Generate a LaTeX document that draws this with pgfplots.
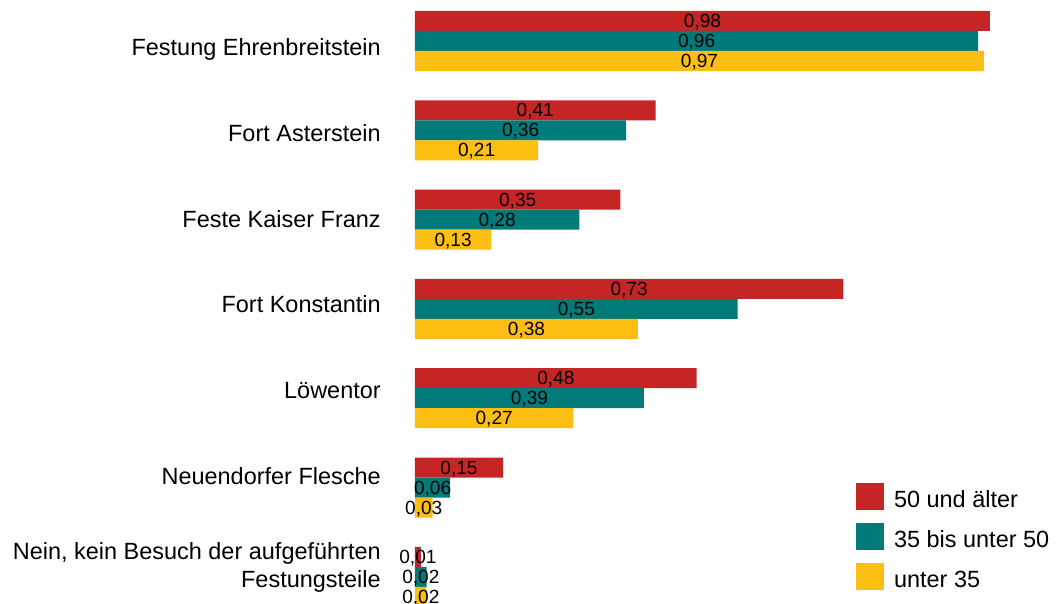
\documentclass[border=0pt]{standalone}
\usepackage{pgfplots}
\pgfplotsset{compat=1.18}
\usepackage{pgfplotstable}
\usepackage{fontspec}
\setmainfont{Liberation Sans}
\definecolor{cred}{RGB}{198,37,38}
\definecolor{cteal}{RGB}{0,123,122}
\definecolor{cyel}{RGB}{252,190,18}

\pgfplotstableread{
y a b c
0 0.98 0.96 0.97
1 0.41 0.36 0.21
2 0.35 0.28 0.13
3 0.73 0.55 0.38
4 0.48 0.39 0.27
5 0.15 0.06 0.03
6 0.01 0.02 0.02
}\data

\pgfplotsset{
  sqleg/.style={legend image code/.code={\fill[##1] (0pt,-1.95pt) rectangle (21pt,18.55pt); \path (21pt,0pt) -- (28.5pt,0pt);}},
  lbl/.style={xbar, draw=none, fill=none, forget plot, bar width=15pt,
    nodes near coords, point meta=explicit,
    every node near coord/.append style={anchor=base, yshift=-5pt, inner sep=0pt,
      font=\fontsize{14.3}{16}\selectfont, text=black}},
}

\begin{document}
\begin{tikzpicture}
\begin{axis}[
  x=440pt, y=66.975pt, y dir=reverse,
  xmin=0, xmax=1.1, ymin=-0.5, ymax=6.5,
  axis line style={draw=none},
  xtick=\empty, ytick={0.0728,1.0325,1.991,2.951,3.909,4.869,6.0246},
  major tick length=0pt,
  yticklabels={Festung Ehrenbreitstein, Fort Asterstein, Feste Kaiser Franz, Fort Konstantin, Löwentor, Neuendorfer Flesche, {\begin{tabular}[b]{@{}r@{}}Nein, kein Besuch der aufgeführten\\Festungsteile\end{tabular}}},
  yticklabel style={font=\fontsize{17.6}{21.2}\selectfont, anchor=base east, inner sep=0pt, xshift=-25.5pt, yshift=-6.3pt},
  /pgf/number format/.cd, fixed, fixed zerofill, precision=2, use comma, assume math mode=true,
  /pgfplots/.cd,
  xbar, bar width=15pt,
  legend style={draw=none, fill=none, inner sep=0pt, outer sep=0pt, row sep=9.5pt, column sep=0pt,
    nodes={inner sep=0pt, anchor=base west}, font=\fontsize{17.6}{21}\selectfont,
    at={(axis cs:0.7517,4.946)}, anchor=north west},
]
\addplot[fill=cred, draw=none, bar shift=15pt, sqleg] table[x=a, y=y] {\data};
\addplot[fill=cteal, draw=none, bar shift=0pt, sqleg] table[x=b, y=y] {\data};
\addplot[fill=cyel, draw=none, bar shift=-15pt, sqleg] table[x=c, y=y] {\data};
\legend{50 und älter, 35 bis unter 50, unter 35}
\addplot[lbl, bar shift=15pt] table[x expr=\thisrow{a}/2, y=y, meta=a] {\data};
\addplot[lbl, bar shift=0pt] table[x expr=\thisrow{b}/2, y=y, meta=b] {\data};
\addplot[lbl, bar shift=-15pt] table[x expr=\thisrow{c}/2, y=y, meta=c] {\data};
\coordinate (bbtl) at (axis cs:-0.70735,-0.4591);
\coordinate (bbbr) at (axis cs:1.09596,6.2934);
\end{axis}
\pgfresetboundingbox
\useasboundingbox (bbtl) rectangle (bbbr);
\end{tikzpicture}
\end{document}
